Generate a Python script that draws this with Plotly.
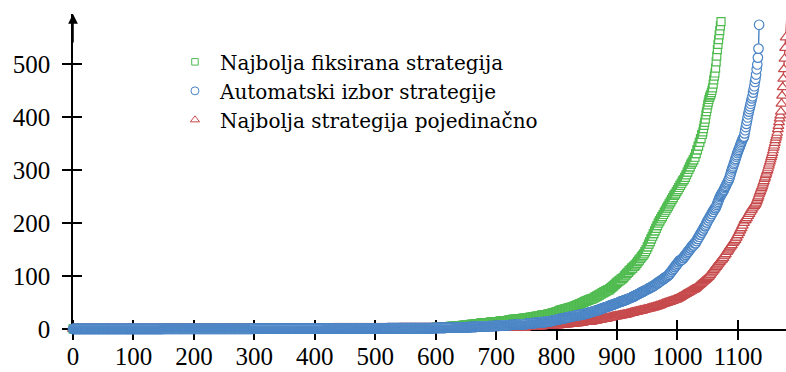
import numpy as np
import plotly.graph_objects as go

# Sorted per-instance times, stored as runs: value and how many instances share it.
green_t = [0.1, 0.3, 0.6, 1.0, 1.5,
           2, 3, 4, 5, 6, 7,
           8, 9, 10, 11, 12, 13, 14,
           15, 16, 17, 18, 19, 20,
           21, 22, 23, 24, 25, 26, 27, 28,
           29, 30, 31, 32, 33, 34,
           35, 36, 37, 38, 39, 40, 41, 42, 43, 44,
           45, 46, 47, 48, 49, 50, 51, 52, 53, 54, 55, 56, 57,
           58, 60, 62, 64, 66, 68, 70, 72, 74,
           76, 78, 80, 82, 84, 86, 88, 90, 92, 95,
           97, 100, 102, 105, 107, 110, 112, 115, 118, 121,
           124, 127, 130, 133, 136, 139, 142, 146,
           150, 155, 160, 165, 170, 175,
           180, 185, 190, 195, 200, 204, 208, 212,
           216, 220, 224, 228, 232, 236, 240, 244, 248, 252, 255,
           259, 263, 267, 271, 275, 279, 282,
           286, 291, 296, 301, 306, 311, 315, 319,
           324, 331, 338, 345, 352, 359, 367,
           372, 378, 384, 390, 396, 404, 410, 416, 423, 428, 433, 437, 440, 442,
           446, 450, 455, 462, 470, 477, 483, 492, 504, 515, 527, 537, 546, 555, 563, 572, 580]
green_n = [150, 150, 120, 100, 70,
           10, 12, 12, 10, 10, 6,
           8, 8, 8, 8, 8, 8, 8,
           7, 7, 7, 8, 8, 7,
           5, 5, 5, 5, 5, 5, 5, 4,
           3, 3, 3, 3, 2, 2,
           3, 3, 3, 3, 3, 3, 3, 3, 2, 2,
           2, 2, 2, 2, 2, 2, 2, 2, 2, 2, 2, 2, 3,
           3, 3, 3, 3, 3, 3, 3, 3, 4,
           2, 2, 2, 2, 2, 2, 2, 2, 3, 3,
           2, 2, 2, 2, 2, 2, 2, 3, 3, 2,
           2, 2, 2, 2, 2, 2, 2, 2,
           2, 2, 2, 2, 2, 2,
           2, 2, 2, 2, 2, 2, 2, 2,
           2, 2, 2, 2, 2, 2, 2, 2, 2, 2, 2,
           2, 2, 2, 2, 2, 2, 2,
           2, 2, 2, 2, 2, 2, 2, 2,
           2, 2, 2, 2, 2, 2, 2,
           1, 1, 1, 1, 1, 1, 1, 1, 1, 1, 1, 1, 1, 1,
           1, 1, 1, 1, 1, 1, 1, 1, 1, 1, 1, 1, 1, 1, 1, 1, 1]

blue_t = [0.1, 0.3, 0.6, 1.0, 1.5,
          2, 2.5, 3,
          3.5, 4, 4.5, 5, 5.5, 6,
          6.5, 7, 7.5, 8, 8.5, 9,
          10, 11, 12, 13, 14,
          15, 16, 17, 18,
          19, 20, 21, 22, 23, 24, 25, 26, 27,
          28, 29, 30, 31, 32, 33, 34, 35, 36,
          37, 38, 39, 40, 41, 42, 43,
          44, 45, 46, 47, 48, 49, 50, 51, 52, 53, 54, 55, 56, 57, 58, 59, 60,
          61, 62, 63, 64, 65, 66, 67, 68, 69, 70, 71, 72, 73, 74, 75, 76, 77, 78, 79, 80,
          82, 84, 86, 88, 90, 92, 94, 96, 98, 100, 102,
          105, 108, 111, 114, 117, 120, 123, 126, 129, 131,
          134, 137, 140, 143, 146, 149, 152, 155, 158, 162,
          166, 170, 174, 178, 182, 186, 190, 194, 197,
          201, 205, 209, 213, 217, 221, 225, 228,
          231, 234, 237, 240, 243, 246, 249, 251, 253, 255, 257,
          259, 261, 263, 266, 268, 270, 273, 275, 277, 280, 282,
          285, 289, 293, 297, 301, 304,
          307, 311, 314, 318, 321, 325, 328, 332,
          335, 338, 341, 344, 347, 350, 353, 356, 359, 361, 363,
          369, 375, 381, 387, 393, 399, 405, 410,
          415, 420, 425, 430, 435, 439, 446, 452, 458, 466, 472, 480, 490, 499, 512, 529, 574]
blue_n = [150, 150, 120, 100, 80,
          17, 17, 16,
          9, 9, 9, 10, 10, 9,
          7, 7, 7, 8, 8, 7,
          8, 8, 8, 8, 7,
          4, 4, 4, 4,
          4, 4, 4, 4, 4, 4, 5, 5, 5,
          3, 3, 3, 3, 3, 3, 3, 3, 3,
          2, 2, 2, 3, 3, 2, 3,
          2, 2, 3, 2, 2, 3, 2, 2, 3, 2, 2, 3, 2, 2, 2, 2, 2,
          2, 2, 1, 2, 2, 1, 2, 2, 1, 2, 2, 1, 2, 2, 1, 2, 2, 1, 2, 2,
          3, 2, 3, 2, 3, 2, 3, 2, 3, 2, 2,
          2, 2, 2, 2, 2, 2, 2, 2, 3, 3,
          2, 2, 2, 2, 2, 2, 2, 2, 3, 3,
          2, 2, 2, 2, 2, 2, 2, 2, 1,
          2, 2, 2, 2, 2, 2, 2, 2,
          1, 1, 1, 1, 1, 1, 1, 1, 1, 1, 1,
          1, 1, 1, 1, 1, 1, 1, 1, 1, 1, 1,
          1, 1, 1, 1, 1, 1,
          1, 1, 1, 1, 1, 1, 1, 1,
          1, 1, 1, 1, 1, 1, 1, 1, 1, 1, 1,
          1, 1, 1, 1, 1, 1, 1, 1,
          1, 1, 1, 1, 1, 1, 1, 1, 1, 1, 1, 1, 1, 1, 1, 1, 1]

red_t = [0.1, 0.3, 0.6, 1.0, 1.5, 2,
         2.5, 3,
         4, 5, 6, 7,
         8, 9, 10, 11, 12, 13, 14,
         15, 16, 17, 18, 19, 20, 21, 22, 23, 24, 25, 26, 27,
         28, 29, 30, 31, 32, 33, 34, 35, 36, 37, 38, 39, 40,
         41, 42, 43, 44, 45, 46, 47, 48, 49, 50, 51, 52, 53, 54, 55,
         56, 57, 58, 59, 60, 61, 62, 63, 64, 65, 66, 67, 68, 69, 70, 71, 72, 73, 74,
         75, 76, 77, 78, 79, 80, 81, 82, 83, 84, 85, 86, 87, 88, 89, 90, 91, 92, 93, 94, 95, 96, 97, 98, 99,
         102, 105, 108, 111, 114, 117, 120, 123, 126, 129, 131,
         134, 138, 141, 145, 148, 152, 155, 158, 162, 165, 168,
         172, 177, 181, 186, 190, 195, 200, 205,
         209, 213, 217, 221, 225, 229, 232, 235,
         238, 241, 244, 247, 250, 254, 257, 260, 263, 266, 269,
         272, 276, 279, 283, 286, 290, 293, 297, 300,
         304, 308, 312, 316, 320, 324, 328, 332,
         337, 342, 346, 351, 356, 361, 365, 370,
         377, 383, 390, 397, 403, 410,
         425, 440, 456, 472, 490, 510, 530, 550, 570, 590]
red_n = [150, 150, 130, 110, 100, 60,
         25, 25,
         14, 14, 14, 13,
         8, 8, 8, 8, 8, 8, 7,
         4, 4, 4, 4, 4, 5, 4, 4, 4, 5, 4, 4, 5,
         3, 4, 3, 4, 3, 4, 3, 4, 3, 4, 3, 4, 3,
         3, 2, 3, 2, 3, 2, 3, 2, 3, 2, 3, 2, 3, 2, 3,
         2, 1, 2, 1, 2, 1, 2, 1, 2, 1, 2, 1, 2, 1, 2, 1, 2, 1, 2,
         2, 1, 1, 1, 1, 1, 1, 1, 1, 1, 1, 1, 1, 1, 1, 1, 1, 1, 1, 1, 1, 1, 1, 1, 1,
         2, 2, 2, 2, 2, 2, 2, 2, 2, 2, 2,
         2, 2, 2, 2, 2, 2, 2, 2, 2, 2, 2,
         2, 2, 2, 2, 2, 2, 2, 3,
         2, 2, 2, 2, 2, 2, 2, 2,
         1, 1, 1, 1, 1, 1, 1, 1, 1, 1, 1,
         1, 1, 1, 1, 1, 1, 1, 1, 1,
         1, 1, 1, 1, 1, 1, 1, 1,
         1, 1, 1, 1, 1, 1, 1, 1,
         1, 1, 1, 1, 1, 1,
         1, 1, 1, 1, 1, 1, 1, 1, 1, 1]

series_names = ["Najbolja fiksirana strategija",
                "Automatski izbor strategije",
                "Najbolja strategija pojedinačno"]

x_ticks = [0, 100, 200, 300, 400, 500, 600, 700, 800, 900, 1000, 1100]
y_ticks = [0, 100, 200, 300, 400, 500]

GREEN = "#4fbb4f"
BLUE = "#4a84c5"
RED = "#c64a4c"
TICK_FONT = dict(family="Liberation Serif", size=25, color="black")
LEGEND_FONT = dict(family="DejaVu Serif", size=20, color="black")

X_RANGE = [0, 1179.5]
Y_RANGE = [0, 594.3]


def cactus(times, counts):
    y = np.repeat(np.asarray(times, dtype=float), counts)
    x = np.arange(len(y))
    return x, y


styles = {
    series_names[0]: dict(color=GREEN, symbol="square", size=8, rank=1),
    series_names[1]: dict(color=BLUE, symbol="circle", size=9.5, rank=2),
    series_names[2]: dict(color=RED, symbol="triangle-up", size=9.5, rank=3),
}
data = {
    series_names[0]: (green_t, green_n),
    series_names[1]: (blue_t, blue_n),
    series_names[2]: (red_t, red_n),
}

fig = go.Figure()

# Drawing order: green, red, then blue on top.
for name in [series_names[0], series_names[2], series_names[1]]:
    st = styles[name]
    x, y = cactus(*data[name])
    fig.add_trace(go.Scatter(
        x=x, y=y, mode="lines+markers", name=name, showlegend=False,
        cliponaxis=False,
        line=dict(color=st["color"], width=1.4),
        marker=dict(symbol=st["symbol"], size=st["size"], color="white",
                    line=dict(color=st["color"], width=1.2)),
    ))

# Legend entries show only the marker symbol.
for name in series_names:
    st = styles[name]
    fig.add_trace(go.Scatter(
        x=[None], y=[None], mode="markers", name=name, legendrank=st["rank"],
        marker=dict(symbol=st["symbol"], size=st["size"] - 1.5, color="white",
                    line=dict(color=st["color"], width=1)),
    ))


# Major ticks point outward, minor ticks at the same values point inward,
# so each tick crosses its axis line.
def axis_style(rng, vals, standoff):
    return dict(
        range=rng, tickvals=vals, ticks="outside", ticklen=9, tickwidth=1.5,
        tickcolor="black", showline=True, linecolor="black", linewidth=1.5,
        showgrid=False, zeroline=False, layer="below traces", automargin=False,
        tickfont=TICK_FONT, ticklabelstandoff=standoff,
        minor=dict(tickvals=vals, ticks="inside", ticklen=9, tickwidth=1.5,
                   tickcolor="black", showgrid=False),
    )


fig.update_layout(
    width=786, height=372,
    margin=dict(l=73, r=0, t=14, b=43, autoexpand=False),
    paper_bgcolor="white", plot_bgcolor="white",
    showlegend=True,
    legend=dict(x=0.136, y=0.91, xanchor="left", yanchor="top",
                font=LEGEND_FONT, itemwidth=40, bgcolor="rgba(0,0,0,0)",
                traceorder="normal"),
    xaxis=axis_style(X_RANGE, x_ticks, -5),
    yaxis=axis_style(Y_RANGE, y_ticks, 7),
)

# Arrow tip on the vertical axis
fig.add_annotation(x=0, y=Y_RANGE[1], xref="x", yref="y", text="",
                   showarrow=True, ax=0, ay=30, arrowhead=2, arrowsize=1.3,
                   arrowwidth=1.5, arrowcolor="black")

fig.write_html("out.html")
